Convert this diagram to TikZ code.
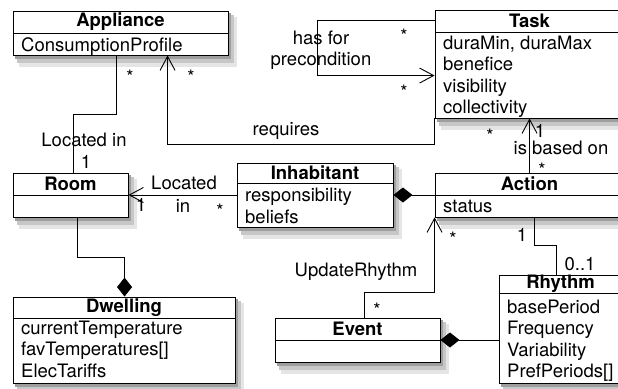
\documentclass[tikz,border=0pt]{standalone}
\usepackage{fontspec}
\setmainfont{TeX Gyre Heros}
\usetikzlibrary{arrows.meta}

\newcommand{\umlfont}{\fontsize{18.5}{21.5}\selectfont}

\tikzset{
  classbox/.style={draw, fill=white, line width=0.9pt, inner sep=0},
  softshade/.style={fill=black!10},
  midshade/.style={fill=black!22},
  darkshade/.style={fill=black!38},
  classtitle/.style={font=\umlfont\bfseries, inner sep=0},
  classattr/.style={align=left, inner sep=0, anchor=base west},
  lbl/.style={inner sep=0},
  mult/.style={inner sep=0},
  manystar/.style={inner sep=0, yshift=-4pt},
  assoc/.style={line width=0.9pt},
  nav/.style={assoc, -{Straight Barb[length=14pt, width=15pt]}},
  compo/.style={assoc, -{Diamond[length=19pt, width=15pt]}}
}

\begin{document}
\begin{tikzpicture}[x=1pt, y=-1pt, every node/.style={font=\umlfont}]

\path[fill=white, use as bounding box] (0,0) rectangle (618,388);

% Shadows
\foreach \xl/\yt/\xr/\yb in {13/11/228/55, 435/10/624/118, 13/173/128/217,
  237/163/393/227, 435/173/624/217, 13/297/235/383, 275/318/440/362, 499/275/622/383} {
  \path[softshade] ({\xl+6},{\yt+6}) rectangle ({\xr+9},{\yb+12});
  \path[midshade] ({\xl+4},{\yt+4}) rectangle ({\xr+6},{\yb+8});
  \path[darkshade] ({\xl+2},{\yt+2}) rectangle ({\xr+3},{\yb+4});
}

% Classes
\foreach \nm/\xl/\yt/\xr/\yb/\ys/\ttl in {
  appliance/13/11/228/55/33/Appliance,
  task/435/10/624/118/32/Task,
  room/13/173/128/217/195/Room,
  inhabitant/237/163/393/227/183/Inhabitant,
  action/435/173/624/217/195/Action,
  dwelling/13/297/235/383/318/Dwelling,
  event/275/318/440/362/340/Event,
  rhythm/499/275/622/383/293/Rhythm
} {
  \node[classbox, minimum width={(\xr-\xl)*1pt}, minimum height={(\yb-\yt)*1pt}]
    (\nm) at ({(\xl+\xr)/2}, {(\yt+\yb)/2}) {};
  \draw[assoc] (\xl,\ys) -- (\xr,\ys);
  \node[classtitle] (\nm-title) at ({(\xl+\xr)/2}, {(\yt+\ys)/2}) {\ttl};
}

% Attributes (base = last line)
\node[classattr] (appliance-attr) at (21,51) {ConsumptionProfile};
\node[classattr] (task-attr) at (443,113.5) {duraMin, duraMax\\benefice\\visibility\\collectivity};
\node[classattr] (inhabitant-attr) at (245,223) {responsibility\\beliefs};
\node[classattr] (action-attr) at (443,212) {status};
\node[classattr] (dwelling-attr) at (21,377) {currentTemperature\\favTemperatures[]\\ElecTariffs};
\node[classattr] (rhythm-attr) at (507,377.5) {basePeriod\\Frequency\\Variability\\PrefPeriods[]};

% Appliance -- Room
\draw[assoc] ([xshift=104pt]appliance.south west) -- ++(0,59) -| ([xshift=61pt]room.north west);
\node[lbl] (located-in) at (84,140) {Located in};
\node[mult] (m-room-appl) at (86,162) {1};
\node[manystar] (m-appl-room) at (130,73) {*};

% Task requires Appliance
\draw[nav] (task.south west) -- ++(0,26) -| ([xshift=155pt]appliance.south west);
\node[lbl] (requires) at (286,131) {requires};
\node[manystar] (m-appl-task) at (191,73) {*};
\node[manystar] (m-task-appl) at (490,132) {*};

% Task precondition
\draw[nav] ([yshift=-11pt]task.north west) -- ++(-117,0) |- ([yshift=-66pt]task.north west);
\node[lbl, align=center] (precond) at (321,50) {has for\\precondition};
\node[manystar] (m-task-a) at (404,32) {*};
\node[manystar] (m-task-b) at (404,88) {*};

% Inhabitant -- Room
\draw[nav] (inhabitant.west) -- (room.east);
\node[lbl] (located) at (184,183) {Located};
\node[lbl] (in) at (183,206) {in};
\node[manystar] (m-inhab-room) at (220,207) {*};
\node[mult] (m-room-inhab) at (141,205) {1};

% Room -- Dwelling
\draw[compo] ([xshift=65pt]room.south west) -- ++(0,40) -| ([xshift=112pt]dwelling.north west);

% Action -- Inhabitant
\draw[compo] (action.west) -- (inhabitant.east);

% Action is based on Task
\draw[nav] ([xshift=95pt]action.north west) -- ([xshift=95pt]task.south west);
\node[mult] (m-task-action) at (540,131) {1};
\node[lbl] (based-on) at (561,148) {is based on};
\node[manystar] (m-action-task) at (542,166) {*};

% Event UpdateRhythm Action
\draw[nav] ([xshift=90pt]event.north west) -- ++(0,-25) -| (action.south west);
\node[lbl] (update) at (356,272) {UpdateRhythm};
\node[manystar] (m-action-event) at (453,235) {*};
\node[manystar] (m-event-action) at (377,306) {*};

% Action -- Rhythm
\draw[assoc] ([xshift=100pt]action.south west) -- ++(0,28) -| ([xshift=58pt]rhythm.north west);
\node[mult] (m-action-rhythm) at (522,235) {1};
\node[mult] (m-rhythm-action) at (580,264) {0..1};

% Rhythm -- Event
\draw[compo] (rhythm.west |- event.east) -- (event.east);

\end{tikzpicture}
\end{document}
